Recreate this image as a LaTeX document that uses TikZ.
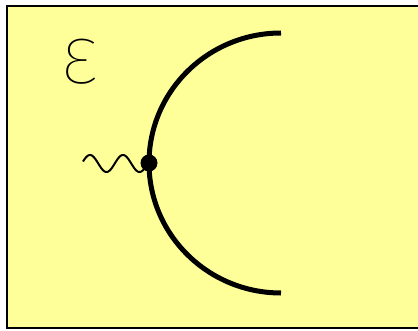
\documentclass[tikz,border=0pt]{standalone}
\usepackage{fontspec}
\usepackage{tikz}
\IfFontExistsTF{Fira Sans Thin}{\newfontfamily\epsfont{Fira Sans Thin}}{%
  \IfFontExistsTF{Fira Sans ExtraLight}{\newfontfamily\epsfont{Fira Sans ExtraLight}}{%
    \IfFontExistsTF{Fira Sans Light}{\newfontfamily\epsfont{Fira Sans Light}}{\newfontfamily\epsfont{Fira Sans}}}}
\definecolor{paper}{HTML}{FFFF99}
\tikzset{
  frame/.style={draw=black, line width=1.6pt},
  mirror/.style={draw=black, line width=5pt},
  wave/.style={draw=black, line width=2pt, line join=round},
  vertex/.style={circle, fill=black, inner sep=0pt, minimum size=17pt},
  symbol/.style={inner sep=0pt, font=\epsfont\fontsize{84}{84}\selectfont}
}
\begin{document}
\begin{tikzpicture}[x=1pt,y=1pt]
  \useasboundingbox (0,0) rectangle (418,330);
  \fill[white] (0,0) rectangle (418,330);
  \clip (0,0) rectangle (418,330);
  \fill[paper] (6.8,2) rectangle (418,324);
  \draw[frame] (440,324) -- (6.8,324) -- (6.8,2) -- (440,2);
  % mirror arc
  \coordinate (top) at (281,297);
  \draw[mirror] (top) arc[start angle=90, end angle=270, x radius=132, y radius=130];
  % interaction point
  \node[vertex] (dot) at (149,167) {};
  \coordinate (w0) at (83,169);
  \draw[wave] plot[domain=83:149, samples=90] (\x, {166.5 + 8.5*sin((\x-90)/33*360 + 90)});
  % label
  \node[symbol] (eps) at (79,268) {ε};
\end{tikzpicture}
\end{document}
